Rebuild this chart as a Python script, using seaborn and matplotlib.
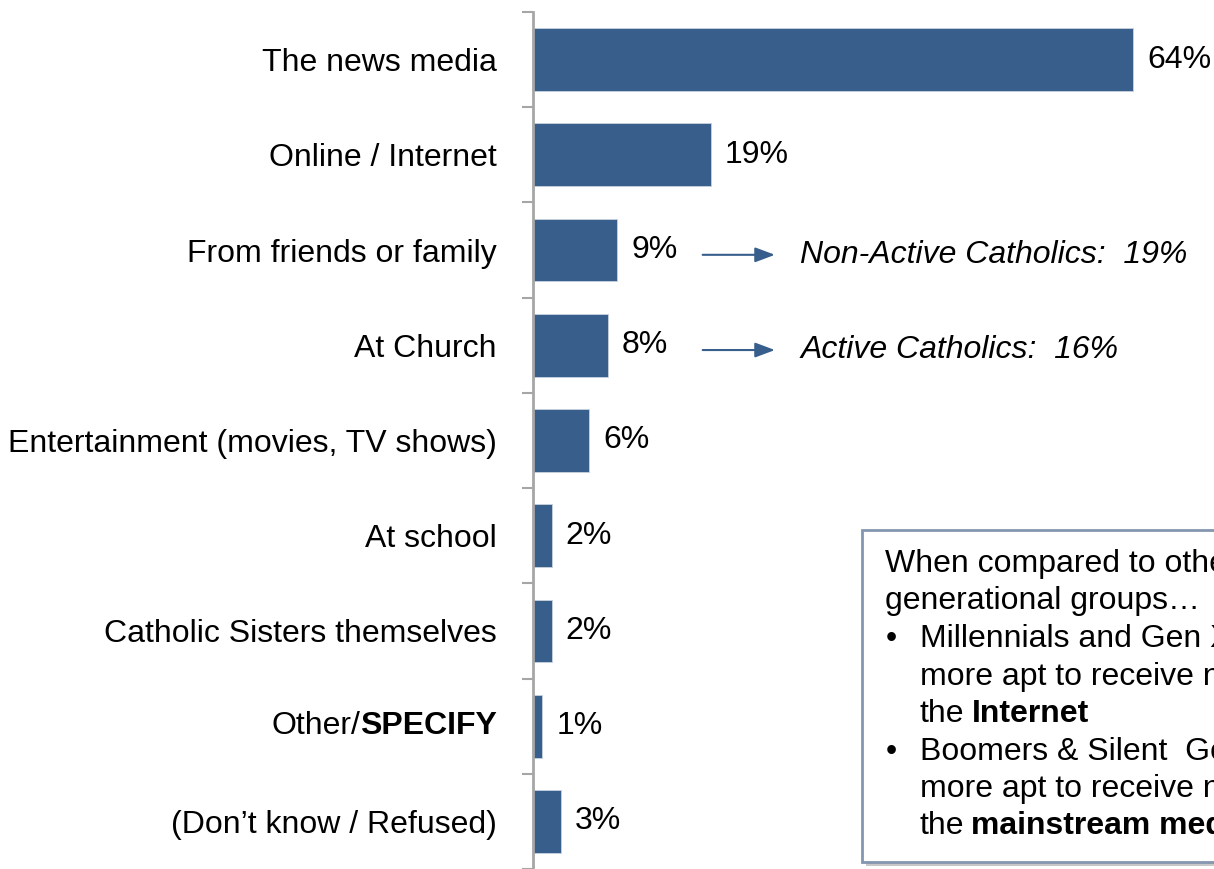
import seaborn as sns
import matplotlib.pyplot as plt
import pandas as pd
import numpy as np
from matplotlib.patches import Rectangle
from matplotlib.text import Annotation

# data
sources = ['The news media', 'Online / Internet', 'From friends or family', 'At Church',
           'Entertainment (movies, TV shows)', 'At school', 'Catholic Sisters themselves',
           'Other/SPECIFY', '(Don\u2019t know / Refused)']
shares = [64, 19, 9, 8, 6, 2, 2, 1, 3]
share_labels = ['64%', '19%', '9%', '8%', '6%', '2%', '2%', '1%', '3%']
callout_rows = ['From friends or family', 'At Church']
callout_texts = ['Non-Active Catholics:  19%', 'Active Catholics:  16%']
box_lines = ['When compared to other', 'generational groups\u2026']
bullet_lines = [('Millennials and Gen X are', 'more apt to receive news from', 'the', 'Internet'),
                ('Boomers & Silent  Gen are', 'more apt to receive news from', 'the', 'mainstream media')]

BAR = '#385E8C'
FS = 23
W, H = 1214, 869


def fx(x):
    return x / W


def fy(y):
    return 1 - y / H


sns.set_style('white')
plt.rcParams['font.family'] = ['Liberation Sans', 'DejaVu Sans']
plt.rcParams['text.color'] = 'black'
plt.rcParams['ytick.color'] = '#a6a6a6'
plt.rcParams['ytick.labelcolor'] = 'black'

df = pd.DataFrame({'source': sources, 'share': shares})

fig = plt.figure(figsize=(12.14, 8.69), dpi=100)
ax = fig.add_axes([fx(533), 0, 1 - fx(533), (H - 12) / H])
sns.barplot(data=df, y='source', x='share', orient='h', color=BAR, width=0.66,
            saturation=1, edgecolor='#c9d3e0', linewidth=0.6, ax=ax)

ax.set_xlim(0, 681 / 9.375)
ax.set_ylim(len(sources) - 0.5, -0.5)
ax.set_xlabel('')
ax.set_ylabel('')
ax.set_xticks([])
for s in ['top', 'right', 'bottom']:
    ax.spines[s].set_visible(False)
ax.spines['left'].set_color('#a6a6a6')
ax.spines['left'].set_linewidth(2)

ticklabels = [s if s != 'Other/SPECIFY' else '' for s in sources]
ax.set_yticks(range(len(sources)))
ax.set_yticklabels(ticklabels, fontsize=FS)
ax.tick_params(axis='y', which='major', length=0, pad=26)
ax.set_yticks(np.arange(-0.5, len(sources), 1), minor=True)
ax.tick_params(axis='y', which='minor', left=True, length=8, width=1.5, color='#a6a6a6')

# Other/SPECIFY label with bold part
i_other = sources.index('Other/SPECIFY')
t_bold = ax.text(-36 / 9.375, i_other, 'SPECIFY', fontsize=FS, fontweight='bold',
                 ha='right', va='center', clip_on=False)
ax.annotate('Other/', xy=(0, 0), xycoords=t_bold, ha='right', va='bottom',
            fontsize=FS, annotation_clip=False)

ax.bar_label(ax.containers[0], labels=share_labels, padding=10, fontsize=FS)

# callouts
for row, txt in zip(callout_rows, callout_texts):
    i = sources.index(row)
    ax.annotate('', xy=(26.1, i + 0.05), xytext=(17.8, i + 0.05),
                arrowprops=dict(arrowstyle='-|>,head_length=0.8,head_width=0.3',
                                mutation_scale=15, color=BAR, lw=1.5))
    ax.text(28.5, i + 0.05, txt, fontsize=FS, style='italic', ha='left', va='center')

# text box
fig.add_artist(Rectangle((fx(866), fy(866)), fx(400), (866 - 534) / H,
                         transform=fig.transFigure, facecolor='#c8c8c8', edgecolor='none'))
fig.add_artist(Rectangle((fx(862), fy(862)), fx(400), (862 - 530) / H,
                         transform=fig.transFigure, facecolor='white', edgecolor='#8497b0', lw=2))

y = 564
for line in box_lines:
    fig.text(fx(885), fy(y), line, fontsize=FS, va='center', ha='left')
    y += 37.5
for l1, l2, l3, bold in bullet_lines:
    fig.text(fx(886), fy(y), '\u2022', fontsize=FS, va='center', ha='left')
    fig.text(fx(920), fy(y), l1, fontsize=FS, va='center', ha='left')
    y += 37.5
    fig.text(fx(920), fy(y), l2, fontsize=FS, va='center', ha='left')
    y += 37.5
    t = fig.text(fx(920), fy(y), l3, fontsize=FS, va='center', ha='left')
    fig.add_artist(Annotation(bold, xy=(1, 0), xycoords=t, xytext=(5, 0),
                              textcoords='offset points', ha='left', va='bottom',
                              fontsize=FS, fontweight='bold', zorder=5))
    y += 37.5

fig.savefig('out.png', dpi=100)
